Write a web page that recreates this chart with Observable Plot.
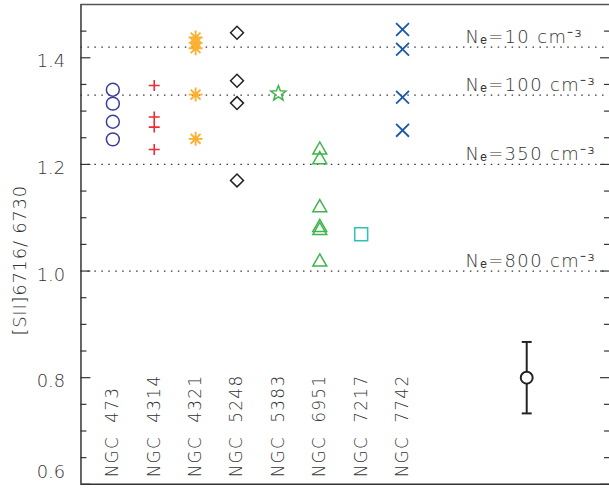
<!DOCTYPE html>
<html><head><meta charset="utf-8">
<script src="https://cdn.jsdelivr.net/npm/d3@7"></script>
<script src="https://cdn.jsdelivr.net/npm/@observablehq/plot@0.6"></script>
<style>
html,body{margin:0;padding:0;overflow:hidden;background:#fff;}
svg text{white-space:pre;font-weight:200;}
.cat text{letter-spacing:1.3px;}
.dens text{letter-spacing:1.4px;}
.ylab text{letter-spacing:0.8px;}
</style></head><body><div id="chart"></div>
<script>
// ---- data ----
const galaxies = ["NGC  473","NGC  4314","NGC  4321","NGC  5248","NGC  5383","NGC  6951","NGC  7217","NGC  7742"];
const ngc473  = [1.340, 1.314, 1.280, 1.247];
const ngc4314 = [1.348, 1.289, 1.270, 1.228];
const ngc4321 = [1.438, 1.428, 1.418, 1.331, 1.248];
const ngc5248 = [1.447, 1.357, 1.315, 1.170];
const ngc5383 = [1.333];
const ngc6951 = [1.229, 1.211, 1.121, 1.084, 1.078, 1.019];
const ngc7217 = [1.069];
const ngc7742 = [1.453, 1.416, 1.326, 1.264];
const seriesValues = [ngc473, ngc4314, ngc4321, ngc5248, ngc5383, ngc6951, ngc7217, ngc7742];

const densityRatios = [1.42, 1.33, 1.20, 1.00];
const densityLabels = ["10", "100", "350", "800"];

const errorBar = {pos: 11, ratio: 0.80, err: 0.067};

const yMajorTicks = [0.6, 0.8, 1.0, 1.2, 1.4];
const yMinorTicks = [0.65, 0.7, 0.75, 0.85, 0.9, 0.95, 1.05, 1.1, 1.15, 1.25, 1.3, 1.35, 1.45];
const yLabel = "[SII]6716/ 6730";
const yLabelAt = 1.02;
const xDomain = [0.23, 13];
const yDomain = [0.6, 1.5];

// ---- styles ----
const colors = ["#3c3c9c", "#ee2a36", "#fbb031", "#222222", "#3fb54b", "#3db54b", "#33c1b6", "#1a55ab"];
const widths = [1.5, 1.6, 1.9, 1.5, 1.5, 1.5, 1.6, 1.8];
const px = size => Math.sqrt(size / Math.PI);
const sym = fn => ({draw(ctx, size) { fn(ctx, px(size)); }});
const plusSym = sym((c, r) => { c.moveTo(-r, 0); c.lineTo(r, 0); c.moveTo(0, -r); c.lineTo(0, r); });
const timesSym = sym((c, r) => { c.moveTo(-r, -r); c.lineTo(r, r); c.moveTo(-r, r); c.lineTo(r, -r); });
const asteriskSym = sym((c, r) => { for (let k = 0; k < 4; k++) { const a = k * Math.PI / 4; c.moveTo(-r * Math.cos(a), -r * Math.sin(a)); c.lineTo(r * Math.cos(a), r * Math.sin(a)); } });
const diamondSym = sym((c, r) => { c.moveTo(0, -r); c.lineTo(r, 0); c.lineTo(0, r); c.lineTo(-r, 0); c.closePath(); });
const squareSym = sym((c, r) => { c.rect(-r, -r, 2 * r, 2 * r); });
const triangleSym = sym((c, r) => { const h = r * 0.87; c.moveTo(0, -h * 1.15); c.lineTo(r, h * 0.85); c.lineTo(-r, h * 0.85); c.closePath(); });
const starSym = sym((c, r) => { for (let k = 0; k < 10; k++) { const a = -Math.PI / 2 + k * Math.PI / 5; const rr = k % 2 ? r * 0.42 : r; const x = rr * Math.cos(a), y = rr * Math.sin(a); k ? c.lineTo(x, y) : c.moveTo(x, y); } c.closePath(); });
const hlineSym = sym((c, r) => { c.moveTo(-r, 0); c.lineTo(r, 0); });
const symbols = ["circle", plusSym, asteriskSym, diamondSym, starSym, triangleSym, squareSym, timesSym];
const radii = [6.5, 5.5, 7, 6.5, 8, 7, 6.5, 6.5];

const rows = [];
seriesValues.forEach((vals, i) => vals.forEach(v => rows.push({pos: i + 1, ratio: v, k: i})));

const ink = "#333";
const chart = Plot.plot({
  width: 613, height: 491,
  marginLeft: 81, marginRight: 0, marginTop: 4, marginBottom: 4,
  x: {domain: xDomain, axis: null},
  y: {domain: yDomain, axis: null, label: null},
  style: {fontFamily: "'DejaVu Sans', sans-serif", background: "white", color: ink},
  marks: [
    Plot.ruleY(densityRatios, {stroke: ink, strokeWidth: 1.3, strokeDasharray: "1.5,5.5"}),
    Plot.text(densityRatios, {y: d => d, text: (d, i) => `N\u2091=${densityLabels[i]} cm\u207B\u00B3`, frameAnchor: "right", dx: -145, textAnchor: "start", lineAnchor: "bottom", dy: -4, fontSize: 18, fill: ink, className: "dens"}),
    Plot.axisY({anchor: "left", ticks: yMajorTicks, tickSize: -10, tickFormat: () => "", label: null, strokeWidth: 1.2}),
    Plot.axisY({anchor: "left", ticks: yMinorTicks, tickSize: -6, tickFormat: () => "", label: null, strokeWidth: 1.2}),
    Plot.axisY({anchor: "right", ticks: yMajorTicks, tickSize: -10, tickFormat: () => "", label: null, strokeWidth: 1.2}),
    Plot.axisY({anchor: "right", ticks: yMinorTicks, tickSize: -6, tickFormat: () => "", label: null, strokeWidth: 1.2}),
    Plot.axisY({anchor: "left", ticks: yMajorTicks.slice(1), tickSize: 0, tickPadding: 16, dy: 4, tickFormat: d3.format(".1f"), fontSize: 18, label: null}),
    Plot.axisY({anchor: "left", ticks: yMajorTicks.slice(0, 1), tickSize: 0, tickPadding: 16, dy: -12, tickFormat: d3.format(".1f"), fontSize: 18, label: null}),
    Plot.ruleX([xDomain[0]], {stroke: ink, strokeWidth: 1.5}),
    Plot.ruleY([yDomain[0]], {stroke: ink, strokeWidth: 1.5}),
    Plot.ruleY([yDomain[1]], {stroke: "#555", strokeWidth: 1.5}),
    Plot.text([yLabel], {y: () => yLabelAt, frameAnchor: "left", dx: -61, rotate: -90, textAnchor: "middle", lineAnchor: "middle", fontSize: 18, fill: ink, className: "ylab"}),
    Plot.text(galaxies, {x: (d, i) => i + 1, frameAnchor: "bottom", dy: -7, rotate: -90, textAnchor: "start", lineAnchor: "middle", fontSize: 17, fill: ink, className: "cat"}),
    ...seriesValues.map((_, i) => Plot.dot(rows.filter(d => d.k === i), {x: "pos", y: "ratio", symbol: symbols[i], r: radii[i], stroke: colors[i], fill: "none", strokeWidth: widths[i]})),
    Plot.ruleX([errorBar], {x: "pos", y1: d => d.ratio - d.err, y2: d => d.ratio + d.err, stroke: "#222", strokeWidth: 2}),
    Plot.dot([errorBar.ratio - errorBar.err, errorBar.ratio + errorBar.err], {x: () => errorBar.pos, y: d => d, symbol: hlineSym, r: 5, stroke: "#222", strokeWidth: 2}),
    Plot.dot([errorBar], {x: "pos", y: "ratio", r: 6, stroke: "#222", fill: "white", strokeWidth: 2})
  ]
});
document.getElementById("chart").appendChild(chart);
</script></body></html>
